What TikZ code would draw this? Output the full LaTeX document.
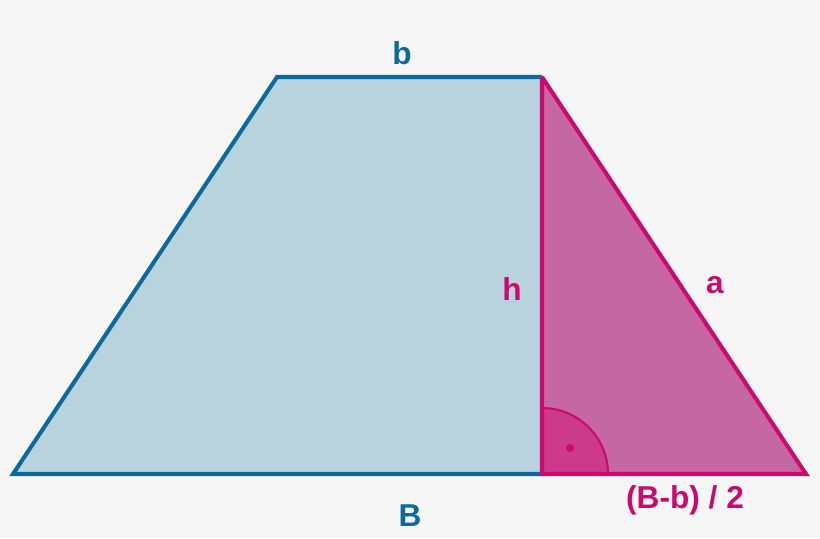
\documentclass[tikz,border=0pt]{standalone}
\usepackage{fontspec}
\setmainfont{Liberation Sans}
\definecolor{bgGray}{HTML}{F6F6F6}
\definecolor{trapFill}{HTML}{B9D3DE}
\definecolor{trapLine}{HTML}{0A6A9C}
\definecolor{triFill}{HTML}{C467A2}
\definecolor{triLine}{HTML}{CC0A6E}
\definecolor{angFill}{HTML}{CC3A8A}
\tikzset{
  blueedge/.style={draw=trapLine,line width=2.3pt},
  pinkedge/.style={draw=triLine,line width=2.3pt,miter limit=2.5},
  bluelabel/.style={text=trapLine,font=\fontsize{18}{21}\selectfont\bfseries},
  pinklabel/.style={text=triLine,font=\fontsize{18}{21}\selectfont\bfseries}
}
\begin{document}
\begin{tikzpicture}[x=0.02cm,y=-0.02cm]
    % Background
    \fill[bgGray] (0,0) rectangle (820,538);
    \useasboundingbox (0,0) rectangle (820,538);
    % Corners
    \coordinate (bl) at (13,474);
    \coordinate (tl) at (277,77);
    \coordinate (tr) at (542,77);
    \coordinate (foot) at (542,474);
    \coordinate (br) at (806,474);
    % Fill shapes
    \fill[trapFill] (bl) -- (tl) -- (tr) -- (foot) -- cycle;
    \fill[triFill] (tr) -- (br) -- (foot) -- cycle;
    % Right angle mark
    \fill[angFill,draw=triLine,line width=1.2pt] (foot) -- ++(66,0) arc (0:-90:66) -- cycle;
    \fill[triLine] (570,448) circle (4);
    % Draw edges
    \draw[blueedge] (foot) -- (bl) -- (tl) -- (tr);
    \draw[pinkedge] (tr) -- (br) -- (foot) -- cycle;
    % Labels
    \node[bluelabel] (lb) at (402,53) {b};
    \node[bluelabel] (lB) at (410,516) {B};
    \node[pinklabel] (lh) at (512,289) {h};
    \node[pinklabel] (la) at (715,285) {a};
    \node[pinklabel] (lhalf) at (685,500) {(B-b) / 2};
\end{tikzpicture}
\end{document}
